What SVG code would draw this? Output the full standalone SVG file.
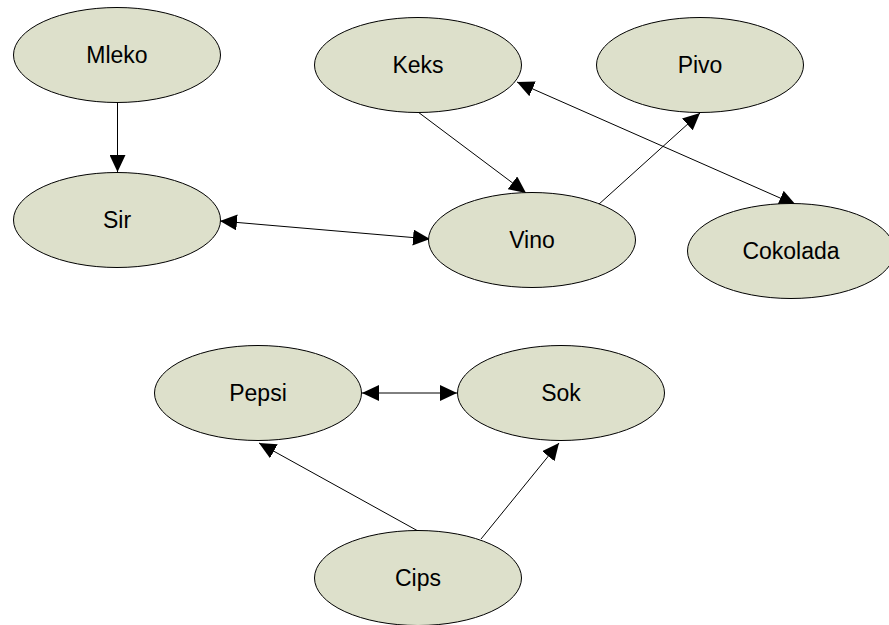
<svg xmlns="http://www.w3.org/2000/svg" width="889" height="625" viewBox="0 0 889 625">
<defs>
<style>
.node ellipse{fill:#dde0cb;stroke:#000;stroke-width:1}
.node text{font-family:"Liberation Sans",Arial,sans-serif;font-size:23px;fill:#000;text-anchor:middle;dominant-baseline:central}
.edges line{stroke:#000;stroke-width:1;fill:none}
</style>
<marker id="ah" markerUnits="userSpaceOnUse" markerWidth="18" markerHeight="16" refX="17" refY="8" orient="auto-start-reverse" viewBox="0 0 18 16">
<path d="M0,0 L17,8 L0,16 Z" fill="#000"/>
</marker>
</defs>
<rect width="889" height="625" fill="#fff"/>
<g class="edges">
<line x1="117.5" y1="102" x2="117.5" y2="172" marker-end="url(#ah)" stroke="#444"/>
<line x1="220" y1="221" x2="430" y2="239" marker-start="url(#ah)" marker-end="url(#ah)"/>
<line x1="418" y1="112" x2="526" y2="193" marker-end="url(#ah)"/>
<line x1="598" y1="205" x2="700" y2="113" marker-end="url(#ah)"/>
<line x1="517" y1="82" x2="796" y2="205" marker-start="url(#ah)" marker-end="url(#ah)"/>
<line x1="362" y1="393" x2="457" y2="393" marker-start="url(#ah)" marker-end="url(#ah)"/>
<line x1="418" y1="531" x2="259" y2="443" marker-end="url(#ah)"/>
<line x1="481" y1="539" x2="559" y2="443" marker-end="url(#ah)"/>
</g>
<g id="mleko" class="node"><ellipse cx="117" cy="55" rx="103.5" ry="47.5"/><text x="117" y="55">Mleko</text></g>
<g id="keks" class="node"><ellipse cx="418" cy="65" rx="103.5" ry="47.5"/><text x="418" y="65">Keks</text></g>
<g id="pivo" class="node"><ellipse cx="700" cy="65" rx="103.5" ry="47.5"/><text x="700" y="65">Pivo</text></g>
<g id="sir" class="node"><ellipse cx="117" cy="220" rx="103.5" ry="47.5"/><text x="117" y="220">Sir</text></g>
<g id="vino" class="node"><ellipse cx="532" cy="240" rx="103.5" ry="47.5"/><text x="532" y="240">Vino</text></g>
<g id="cokolada" class="node"><ellipse cx="791" cy="251" rx="103.5" ry="47.5"/><text x="791" y="251">Cokolada</text></g>
<g id="pepsi" class="node"><ellipse cx="258" cy="393" rx="103.5" ry="47.5"/><text x="258" y="393">Pepsi</text></g>
<g id="sok" class="node"><ellipse cx="561" cy="393" rx="103.5" ry="47.5"/><text x="561" y="393">Sok</text></g>
<g id="cips" class="node"><ellipse cx="418" cy="578" rx="103.5" ry="47.5"/><text x="418" y="578">Cips</text></g>
</svg>
